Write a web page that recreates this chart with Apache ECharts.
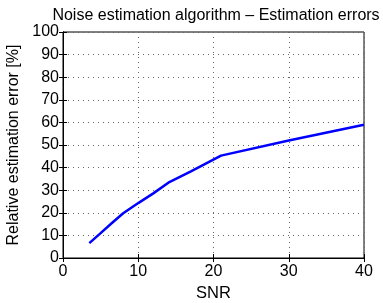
<!DOCTYPE html>
<html>
<head>
<meta charset="utf-8">
<script src="https://cdn.jsdelivr.net/npm/echarts@6/dist/echarts.min.js"></script>
<style>html,body{margin:0;padding:0;background:#fff}#c{width:383px;height:303px}</style>
</head>
<body>
<div id="c"></div>
<script>
var snr = [3.5, 5, 6.5, 8, 10, 12, 14, 17, 21, 30, 40];
var errorPct = [6.6, 11, 15.5, 19.8, 24.3, 28.6, 33.3, 38.3, 45.3, 52, 59];
var xTicks = [0, 10, 20, 30, 40];
var yTicks = [0, 10, 20, 30, 40, 50, 60, 70, 80, 90, 100];

var font = 'Liberation Sans, Arial, Helvetica, sans-serif';
var chart = echarts.init(document.getElementById('c'), null, {renderer: 'canvas'});
var data = snr.map(function (x, i) { return [x, errorPct[i]]; });
var tickStyle = {show: true, inside: true, length: 4, lineStyle: {color: '#000', width: 1}};
var grid = {type: [1, 4], color: '#666', width: 1};
chart.setOption({
  animation: false,
  backgroundColor: '#fff',
  title: {
    text: 'Noise estimation algorithm \u2013 Estimation errors',
    left: 211, textAlign: 'center', top: 3,
    textStyle: {fontFamily: font, fontSize: 16, fontWeight: 'normal', color: '#000'}
  },
  grid: {left: 63, right: 19, top: 32, bottom: 45, show: true, borderColor: '#000', borderWidth: 1,
         backgroundColor: 'transparent', containLabel: false, outerBoundsMode: 'none'},
  xAxis: [{
    type: 'value', min: xTicks[0], max: xTicks[xTicks.length - 1], interval: 10,
    name: 'SNR', nameLocation: 'middle', nameGap: 25,
    nameTextStyle: {fontFamily: font, fontSize: 16.5, color: '#000'},
    axisLine: {show: true, lineStyle: {color: '#000', width: 1}},
    axisTick: tickStyle,
    axisLabel: {fontFamily: font, fontSize: 16, color: '#000', margin: 6},
    splitLine: {show: true, lineStyle: grid}
  }, {
    type: 'value', position: 'top', min: 0, max: 40, interval: 10,
    axisLine: {show: true, lineStyle: {color: '#000'}}, axisTick: tickStyle,
    axisLabel: {show: false}, splitLine: {show: false}
  }],
  yAxis: [{
    type: 'value', min: yTicks[0], max: yTicks[yTicks.length - 1], interval: 10,
    name: 'Relative estimation error [%]', nameLocation: 'middle', nameGap: 38,
    nameTextStyle: {fontFamily: font, fontSize: 16, color: '#000'},
    axisLine: {show: true, lineStyle: {color: '#000', width: 1}},
    axisTick: tickStyle,
    axisLabel: {fontFamily: font, fontSize: 16, color: '#000', margin: 4},
    splitLine: {show: true, lineStyle: grid}
  }, {
    type: 'value', position: 'right', min: 0, max: 100, interval: 10,
    axisLine: {show: true, lineStyle: {color: '#000'}}, axisTick: tickStyle,
    axisLabel: {show: false}, splitLine: {show: false}
  }],
  series: [{
    type: 'line', data: data, xAxisIndex: 0, yAxisIndex: 0,
    showSymbol: false, symbol: 'none',
    lineStyle: {color: '#0000ff', width: 2.5}, z: 5
  }]
});
</script>
</body>
</html>
